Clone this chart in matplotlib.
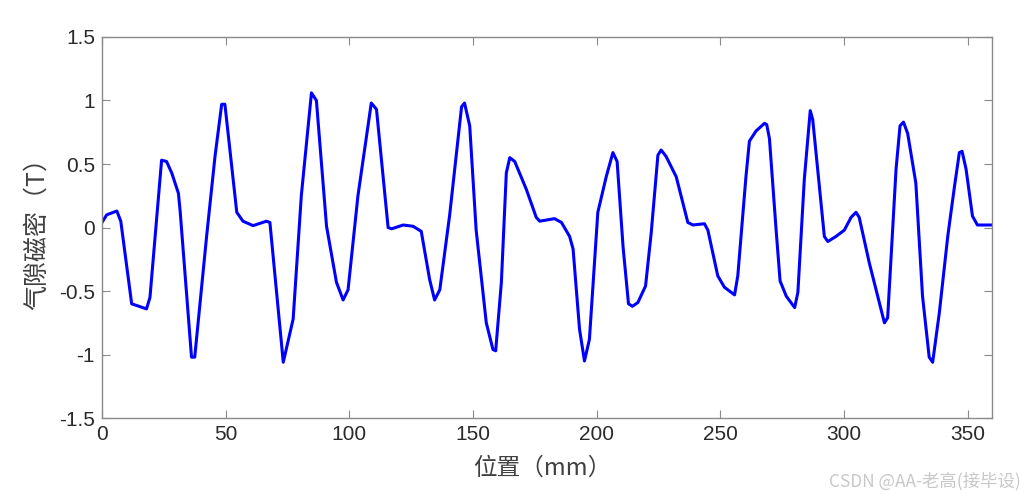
import matplotlib
matplotlib.use('Agg')
import matplotlib.pyplot as plt

# air-gap flux density along the air gap
pos_mm = [0.0, 1.9, 6.0, 7.6, 12.0, 18.0, 19.4, 24.1, 26.1, 28.2, 30.9, 31.6, 36.2, 37.5,
          42.3, 45.7, 48.4, 49.7, 54.5, 57.0, 61.1, 66.5, 67.9, 73.3, 77.3, 80.6,
          84.7, 86.7, 90.8, 94.8, 97.5, 99.5, 103.5, 108.9, 111.0, 115.7, 117.1,
          121.8, 125.8, 129.1, 132.5, 134.5, 136.6, 140.6, 145.4, 146.6, 148.7,
          151.3, 155.4, 158.1, 159.2, 161.5, 163.5, 164.9, 166.9, 171.6, 175.6,
          177.0, 183.0, 185.8, 189.1, 190.5, 193.1, 195.1, 197.1, 200.5, 203.9,
          206.6, 208.3, 210.7, 212.9, 214.5, 216.7, 219.8, 222.1, 224.8, 226.1,
          228.1, 232.2, 236.9, 239.0, 243.6, 245.0, 249.0, 251.7, 255.8, 257.1,
          260.4, 261.8, 264.5, 267.9, 268.8, 269.9, 272.6, 274.2, 276.7, 280.1,
          281.4, 284.0, 286.4, 287.4, 292.1, 293.5, 296.8, 300.2, 302.9, 304.9,
          306.2, 310.3, 314.3, 316.4, 317.7, 321.1, 322.7, 324.1, 325.8, 329.1,
          331.8, 334.5, 335.9, 338.6, 342.0, 344.7, 346.7, 347.8, 349.4, 352.0,
          354.0, 360.0]
bg = [0.04, 0.10, 0.13, 0.05, -0.60, -0.64, -0.55, 0.53, 0.52, 0.43, 0.27, 0.13, -1.02, -1.02,
      -0.07, 0.56, 0.97, 0.97, 0.12, 0.05, 0.015, 0.05, 0.04, -1.06, -0.72, 0.25,
      1.06, 1.00, 0.01, -0.43, -0.57, -0.49, 0.25, 0.98, 0.93, 0.00, -0.01,
      0.02, 0.01, -0.03, -0.41, -0.57, -0.49, 0.10, 0.95, 0.98, 0.80,
      -0.02, -0.75, -0.96, -0.97, -0.43, 0.43, 0.55, 0.52, 0.30, 0.08,
      0.05, 0.07, 0.04, -0.07, -0.17, -0.80, -1.05, -0.88, 0.12, 0.40,
      0.59, 0.52, -0.15, -0.60, -0.62, -0.59, -0.46, -0.04, 0.57, 0.61,
      0.56, 0.40, 0.04, 0.02, 0.03, -0.02, -0.38, -0.47, -0.53, -0.38,
      0.40, 0.68, 0.76, 0.82, 0.81, 0.70, -0.02, -0.42, -0.54, -0.63,
      -0.51, 0.38, 0.92, 0.85, -0.07, -0.11, -0.07, -0.02, 0.08, 0.12,
      0.08, -0.28, -0.59, -0.75, -0.71, 0.46, 0.80, 0.83, 0.74, 0.35,
      -0.54, -1.02, -1.06, -0.67, -0.07, 0.32, 0.59, 0.60, 0.46, 0.09,
      0.02, 0.02]

xticks = [0, 50, 100, 150, 200, 250, 300, 350]
yticks = [-1.5, -1, -0.5, 0, 0.5, 1, 1.5]
ytick_labels = ['-1.5', '-1', '-0.5', '0', '0.5', '1', '1.5']

plt.rcParams['font.family'] = ['Liberation Sans', 'Noto Sans CJK SC', 'DejaVu Sans']

fig = plt.figure(figsize=(10.24, 4.99), dpi=100)
ax = fig.add_axes([0.0996, 0.162, 0.8694, 0.764])

ax.plot(pos_mm, bg, color='#0000ff', lw=2.2)

ax.set_xlim(0, 360)
ax.set_ylim(-1.5, 1.5)
ax.set_xticks(xticks)
ax.set_yticks(yticks)
ax.set_yticklabels(ytick_labels)

for s in ax.spines.values():
    s.set_color('#8a8a8a')
    s.set_linewidth(1.0)
ax.tick_params(direction='in', top=True, right=True, length=6, width=0.8,
               color='#8a8a8a', labelsize=15, labelcolor='#2a2a2a', pad=5)

cjk = ['Noto Sans CJK SC', 'DejaVu Sans']
ax.set_xlabel('位置（mm）', family=cjk, fontsize=17, color='#404040')
ax.xaxis.set_label_coords(0.495, -0.131)
ax.xaxis.label.set_va('center')
ax.set_ylabel('气隙磁密（T）', family=cjk, fontsize=18, color='#404040')
ax.yaxis.set_label_coords(-0.073, 0.5)
ax.yaxis.label.set_va('center')

fig.text(0.997, 0.036, 'CSDN @AA-老高(接毕设)', family=cjk, fontsize=12.5,
         color='#c8c8c8', ha='right', va='center')

fig.savefig('out.png', dpi=100)
